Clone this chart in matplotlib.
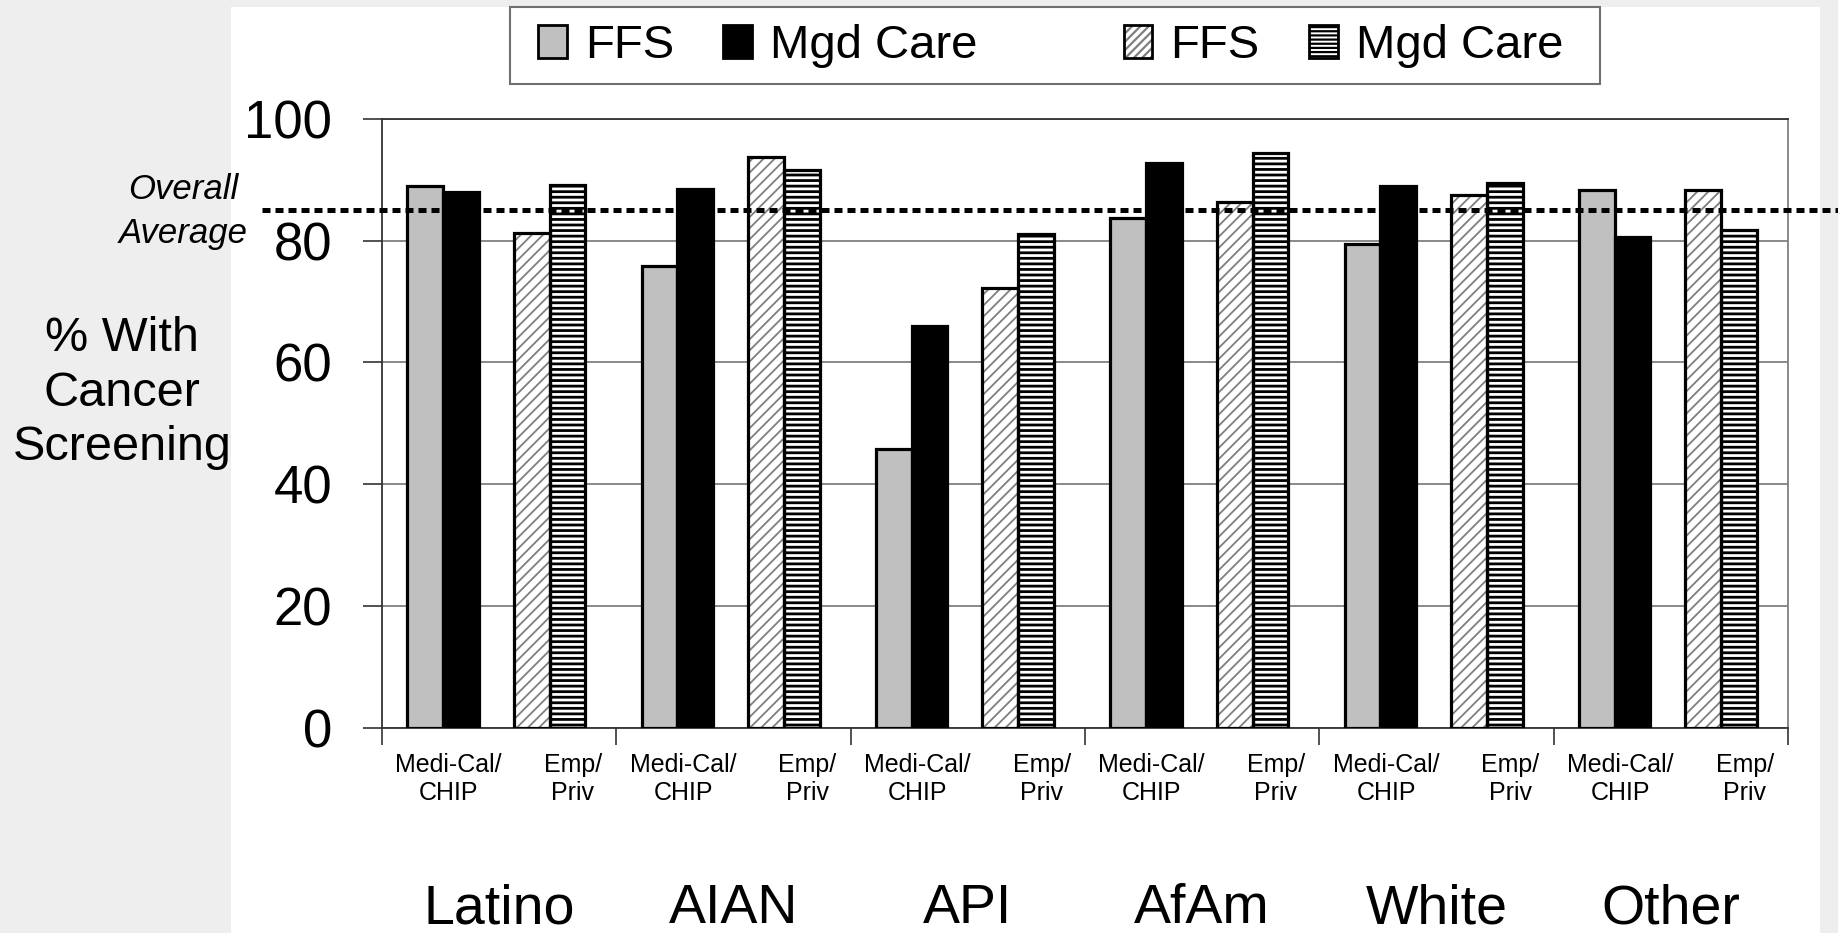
import matplotlib
matplotlib.use("Agg")
import matplotlib.pyplot as plt
from matplotlib.patches import Patch, Rectangle
from matplotlib import transforms
import numpy as np

# cancer screening rates (%) by race/ethnicity and coverage type
groups = ["Latino", "AIAN", "API", "AfAm", "White", "Other"]
coverage = ["Medi-Cal/\nCHIP", "Emp/\nPriv"]
medical_ffs = [89.0, 75.8, 45.8, 83.7, 79.5, 88.4]
medical_mgd = [88.0, 88.5, 65.9, 92.7, 89.0, 80.6]
emp_ffs = [81.2, 93.8, 72.2, 86.4, 87.5, 88.4]
emp_mgd = [89.2, 91.7, 81.1, 94.4, 89.5, 81.7]
overall_avg = 85
yticks = [0, 20, 40, 60, 80, 100]

plt.rcParams["font.family"] = ["Liberation Sans", "DejaVu Sans"]
plt.rcParams["hatch.linewidth"] = 1.6

W, H = 1838, 933
fig = plt.figure(figsize=(W / 100, H / 100), dpi=100)
fig.patch.set_facecolor("#eeeeee")
fig.add_artist(Rectangle((231 / W, 0), (1820 - 231) / W, (H - 7) / H,
                         transform=fig.transFigure, facecolor="white",
                         edgecolor="none", zorder=-5))

ax_l, ax_r, ax_t, ax_b = 382, 1788, 119, 727.5
ax = fig.add_axes([ax_l / W, 1 - ax_b / H, (ax_r - ax_l) / W, (ax_b - ax_t) / H])
ax.set_facecolor("white")

n = len(groups)
g = np.arange(n)
bw = 0.305
med_c = 2 * g + 0.5 + 0.02
emp_c = 2 * g + 1.5 - 0.07
edge_lw = 2.3

ax.bar(med_c - bw / 2, medical_ffs, bw, color="#c0c0c0", edgecolor="black",
       linewidth=edge_lw, zorder=3)
ax.bar(med_c + bw / 2, medical_mgd, bw, color="black", edgecolor="black",
       linewidth=edge_lw, zorder=3)

# hatched FFS bars: grey hatch, black outline drawn separately
hb = ax.bar(emp_c - bw / 2, emp_ffs, bw, color="white", edgecolor="#7f7f7f",
            hatch="///", linewidth=0, zorder=3)
ax.bar(emp_c - bw / 2, emp_ffs, bw, fill=False, edgecolor="black",
       linewidth=edge_lw, zorder=4)
sb = ax.bar(emp_c + bw / 2, emp_mgd, bw, color="white", edgecolor="black",
            hatch="---", linewidth=edge_lw, zorder=3)
for p in hb:
    if hasattr(p, "set_hatch_linewidth"):
        p.set_hatch_linewidth(1.3)
for p in sb:
    if hasattr(p, "set_hatch_linewidth"):
        p.set_hatch_linewidth(2.0)

ax.set_xlim(0, 2 * n)
ax.set_ylim(0, 100)
ax.set_yticks(yticks)
ax.set_yticklabels([str(v) for v in yticks], fontsize=38)
ax.yaxis.grid(True, color="#808080", linewidth=1.3, zorder=0)
ax.set_axisbelow(True)
ax.tick_params(axis="y", direction="out", length=14, width=1.2, pad=22,
               color="#333333")
ax.set_xticks(np.arange(0, 2 * n + 1, 2))
ax.set_xticklabels([])
ax.tick_params(axis="x", direction="out", length=12, width=1.2, color="#333333")
for s in ax.spines.values():
    s.set_color("#333333")
    s.set_linewidth(1.3)
ax.spines["right"].set_color("#808080")

# coverage labels under each pair and group names below
xt = transforms.blended_transform_factory(ax.transData, ax.transAxes)
for i in range(n):
    ax.text(2 * i + 0.5 + 0.07, -0.084, coverage[0], transform=xt, ha="center",
            va="center", fontsize=18, linespacing=1.2)
    ax.text(2 * i + 1.5 + 0.13, -0.084, coverage[1], transform=xt, ha="center",
            va="center", fontsize=18, linespacing=1.2)
    ax.text(2 * i + 1, -0.322, groups[i], transform=xt, ha="center",
            va="baseline", fontsize=40)

# overall average reference line
yt = transforms.blended_transform_factory(ax.transAxes, ax.transData)
ax.plot([(262 - ax_l) / (ax_r - ax_l), (W - ax_l) / (ax_r - ax_l)],
        [overall_avg, overall_avg], transform=yt, color="black", linewidth=3.6,
        linestyle=(0, (1.6, 1.0)), clip_on=False, zorder=6)

fig.text(183 / W, 1 - 211.5 / H, "Overall\nAverage", ha="center", va="center",
         fontsize=25, style="italic", linespacing=1.45)
fig.text(122 / W, 1 - 393 / H, "% With\nCancer\nScreening", ha="center",
         va="center", fontsize=35, linespacing=1.27)

# legend
h_ffs_med = Patch(facecolor="#c0c0c0", edgecolor="black", linewidth=2)
h_mgd_med = Patch(facecolor="black", edgecolor="black", linewidth=2)
h_blank = Patch(visible=False)
h_ffs_emp = (Patch(facecolor="white", edgecolor="#7f7f7f", hatch="////", linewidth=0),
             Patch(fill=False, edgecolor="black", linewidth=2))
h_mgd_emp = Patch(facecolor="white", edgecolor="black", hatch="----", linewidth=2)
fig.add_artist(Rectangle((510 / W, 1 - 84 / H), (1600 - 510) / W, 77 / H,
                         transform=fig.transFigure, facecolor="white",
                         edgecolor="#707070", linewidth=1.5, zorder=1))
leg = fig.legend([h_ffs_med, h_mgd_med, h_blank, h_ffs_emp, h_mgd_emp],
                 ["FFS", "Mgd Care", "", "FFS", "Mgd Care"],
                 loc="center left", bbox_to_anchor=(538 / W, 1 - 46 / H),
                 bbox_transform=fig.transFigure, ncol=5, frameon=False,
                 fontsize=34, borderpad=0, borderaxespad=0, handlelength=0.61,
                 handleheight=0.7, handletextpad=0.38, columnspacing=1.05)
leg.set_zorder(2)

fig.savefig("out.png", dpi=100, facecolor=fig.get_facecolor())
